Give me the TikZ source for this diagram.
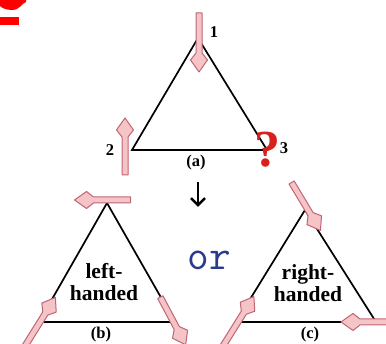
\documentclass[tikz,border=0pt]{standalone}
\usepackage{fontspec}
\setmainfont{Liberation Serif}
\usetikzlibrary{arrows.meta}
\definecolor{spinfill}{HTML}{F4C4C6}
\definecolor{spinline}{HTML}{BF6676}
\definecolor{qred}{HTML}{D8201E}
\definecolor{orblue}{HTML}{2B3A8C}
\tikzset{
 spinstyle/.style={fill=spinfill, draw=spinline, line width=1pt, line join=round},
 triedge/.style={draw=black, line width=1.7pt, line join=miter},
 lbl/.style={font=\bfseries\fontsize{16.5}{16.5}\selectfont, inner sep=0pt},
 hand/.style={font=\bfseries\fontsize{21.5}{22}\selectfont, align=center, inner sep=0pt},
}
\newcommand{\spin}[4]{%
 \begin{scope}[shift={(#1,#2)},rotate=#3]
 \filldraw[spinstyle] ({-#4/2},-3) -- ({#4/2-19},-3) -- ({#4/2-12},-8.5) -- ({#4/2},0) -- ({#4/2-12},8.5) -- ({#4/2-19},3) -- ({-#4/2},3) -- cycle;
 \end{scope}}
\begin{document}
\begin{tikzpicture}[x=1pt,y=1pt]
\useasboundingbox (0,0) rectangle (386,344);
\clip (0,0) rectangle (386,344);
% red fragment top-left
\fill[red] (0,344) -- (26,344) -- (26,342) .. controls (22,341) and (20,334) .. (12,334) .. controls (6,334) and (2,336) .. (0,338) -- cycle;
\fill[red] (0,319) rectangle (19,327);
% triangle (a)
\coordinate (a1) at (198,306);
\coordinate (a2) at (132,194);
\coordinate (a3) at (267,194);
\draw[triedge] (a1) -- (a2) -- (a3) -- cycle;
% triangle (b)
\coordinate (b1) at (107,141);
\coordinate (b2) at (39,22);
\coordinate (b3) at (175,22);
\draw[triedge] (b1) -- (b2) -- (b3) -- cycle;
% triangle (c)
\coordinate (c1) at (305,134);
\coordinate (c2) at (236,22);
\coordinate (c3) at (376,22);
\draw[triedge] (c1) -- (c2) -- (c3) -- cycle;
% spins
\spin{199}{301.5}{-90}{59}
\spin{125}{197.5}{90}{57}
\spin{102.5}{144}{180}{56}
\spin{40}{22}{58}{58}
\spin{173}{23}{-62}{54}
\spin{306}{137.5}{-59}{56}
\spin{238}{22}{58}{60}
\spin{370}{22}{180}{58}
% labels (a)
\node[lbl] (n1) at (214,312) {1};
\node[lbl] (n2) at (110,194) {2};
\node[lbl] (n3) at (284,196) {3};
\node[font=\bfseries\fontsize{52}{52}\selectfont, text=qred, inner sep=0pt] (q) at (267,194) {?};
\node[lbl] (la) at (196,181) {(a)};
% down arrow
\coordinate (d1) at (198,162);
\coordinate (d2) at (198,137);
\draw[line width=2.6pt, -{Straight Barb[length=7pt,width=14pt,line width=2.6pt]}] (d1) -- (d2);
% or
\node[font=\ttfamily\fontsize{42}{42}\selectfont, text=orblue, inner sep=0pt] (or) at (209,84) {or};
% handedness labels
\node[hand] (lh) at (104,62) {left-\\handed};
\node[hand] (rh) at (308,61) {right-\\handed};
\node[lbl] (lb) at (101,9) {(b)};
\node[lbl] (lc) at (310,9) {(c)};
\end{tikzpicture}
\end{document}
